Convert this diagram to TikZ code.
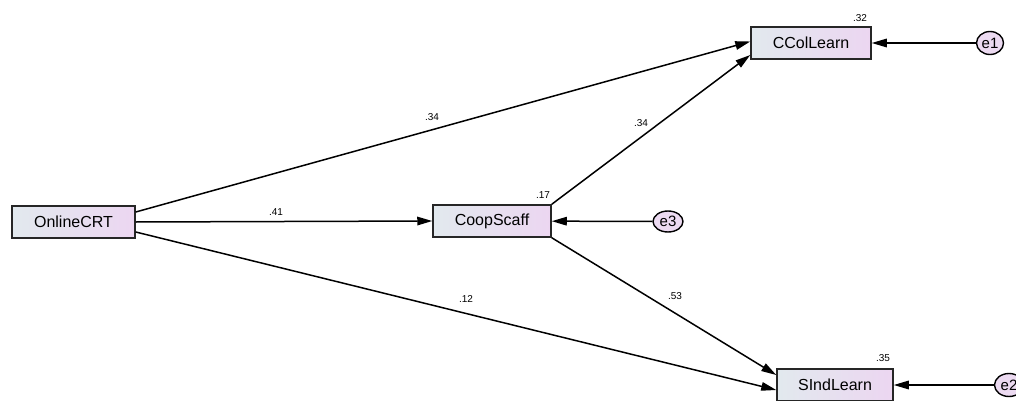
\documentclass[tikz,border=0pt]{standalone}
\usepackage{fontspec}
\setmainfont{Liberation Sans}
\usetikzlibrary{arrows.meta,calc,shapes.geometric}
\definecolor{boxL}{RGB}{226,233,238}
\definecolor{boxR}{RGB}{236,214,241}
\definecolor{errF}{RGB}{236,218,241}
\tikzset{
  var/.style={draw=black!85, line width=1.5pt, minimum width=120pt, minimum height=32pt, inner sep=0pt,
    left color=boxL, right color=boxR, font=\fontsize{16}{18}\selectfont},
  err/.style={draw=black, line width=1.4pt, ellipse, minimum width=27pt, minimum height=23pt, inner sep=0pt,
    fill=errF, font=\fontsize{15}{16}\selectfont},
  path/.style={line width=1.5pt, -{Triangle[length=15pt,width=8.5pt]}},
  coef/.style={font=\fontsize{10}{11}\selectfont, inner sep=0pt}
}
\begin{document}
\begin{tikzpicture}[x=1pt,y=-1pt]
\useasboundingbox (0,0) rectangle (1016,401);
\node[var, minimum width=123pt] (oc) at (73.5,222) {OnlineCRT};
\node[var, minimum width=118pt] (cs) at (492,221) {CoopScaff};
\node[var, minimum width=120pt] (cc) at (811,43) {CColLearn};
\node[var, minimum width=116pt] (si) at (835,385) {SIndLearn};
\node[err] (e1) at (990,43) {e1};
\node[err, minimum width=30pt, minimum height=21pt] (e3) at (668,221.5) {e3};
\node[err, minimum width=29pt] (e2) at (1009,385) {e2};

\draw[path] ($(oc.east)+(0,-10)$) -- ($(cc.west)+(0,-1.5)$);
\draw[path] (oc.east) -- (cs.west);
\draw[path] ($(oc.east)+(0,10)$) -- ($(si.west)+(0,5)$);
\draw[path] (cs.north east) -- ($(cc.west)+(0,12)$);
\draw[path] (cs.south east) -- ($(si.west)+(0,-10)$);
\draw[path] (e1) -- (cc);
\draw[path] (e3) -- (cs);
\draw[path] (e2) -- (si);

\node[coef] (l1) at (432,117) {.34};
\node[coef] (l2) at (641,123) {.34};
\node[coef] (l3) at (276,212) {.41};
\node[coef] (l4) at (466,299) {.12};
\node[coef] (l5) at (675,296) {.53};
\node[coef] (r1) at (860,18) {.32};
\node[coef] (r2) at (543,195) {.17};
\node[coef] (r3) at (883,358) {.35};
\end{tikzpicture}
\end{document}
